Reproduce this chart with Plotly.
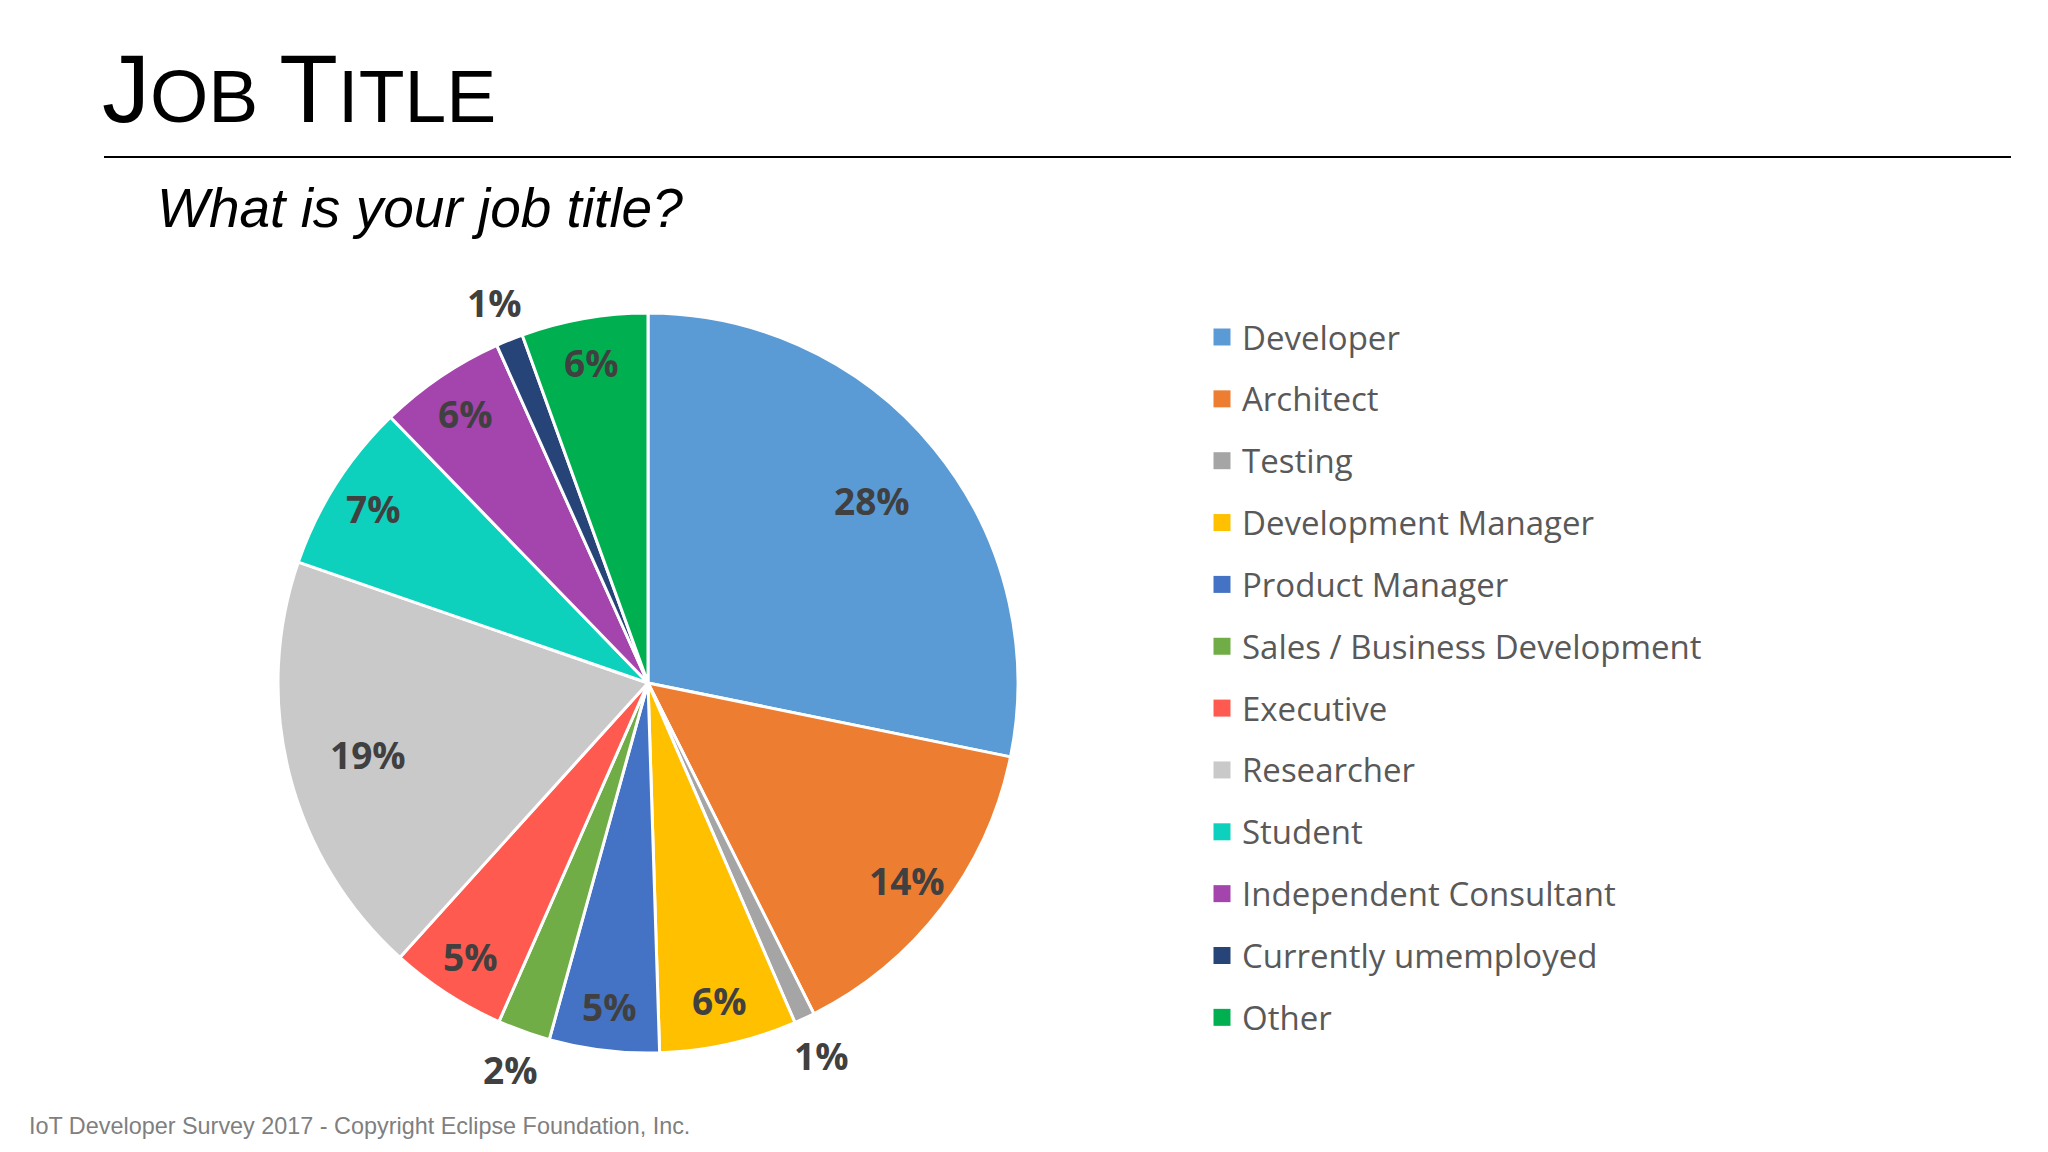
import math
import plotly.graph_objects as go

# ---- data ----
categories = ["Developer", "Architect", "Testing", "Development Manager", "Product Manager",
              "Sales / Business Development", "Executive", "Researcher", "Student",
              "Independent Consultant", "Currently umemployed", "Other"]
shares = [28.2, 14.4, 0.9, 6.0, 4.8, 2.3, 5.1, 18.6, 7.45, 5.55, 1.18, 5.52]
colors = ["#5B9BD5", "#ED7D31", "#A5A5A5", "#FFC000", "#4472C4", "#70AD47",
          "#FF5A4F", "#C9C9C9", "#0DD0BD", "#A445AD", "#264478", "#00B050"]

# page geometry (browser body has an 8px margin)
OFF = 8
W, H = 2048 - OFF, 1152 - OFF


def px(x):
    return (x - OFF) / W


def py(y):
    return 1 - (y - OFF) / H


CX, CY, R = 648, 683, 370          # pie centre / radius on the page
pie_dom_x = [px(CX - R), px(CX + R)]
pie_dom_y = [py(CY + R), py(CY - R)]

# label axis system: unit = pie radius, centred on the pie, larger than the pie
AX0, AX1, AY0, AY1 = 150, 1150, 190, 1140
ax_dom_x = [px(AX0), px(AX1)]
ax_dom_y = [py(AY1), py(AY0)]
ax_range_x = [(AX0 - CX) / R, (AX1 - CX) / R]
ax_range_y = [(CY - AY1) / R, (CY - AY0) / R]

fig = go.Figure()
fig.add_trace(go.Pie(
    labels=categories, values=shares, sort=False, direction="clockwise", rotation=0,
    marker=dict(colors=colors, line=dict(color="white", width=3)),
    textinfo="none", domain=dict(x=pie_dom_x, y=pie_dom_y),
    showlegend=False, hoverinfo="label+percent",
))

shapes = [dict(type="line", xref="paper", yref="paper", x0=px(104), x1=px(2011),
               y0=py(157), y1=py(157), line=dict(color="black", width=2))]
annotations = [
    dict(text='<span style="font-size:96px">J</span><span style="font-size:75px">OB </span>'
              '<span style="font-size:96px">T</span><span style="font-size:75px">ITLE</span>',
         x=px(100), y=py(144), xref="paper", yref="paper", xanchor="left", yanchor="bottom",
         showarrow=False, font=dict(family="Liberation Sans", size=75, color="black")),
    dict(text="<i>What is your job title?</i>", x=px(155), y=py(241), xref="paper", yref="paper",
         xanchor="left", yanchor="bottom", showarrow=False,
         font=dict(family="Liberation Sans", size=55, color="black")),
    dict(text="IoT Developer Survey 2017 - Copyright Eclipse Foundation, Inc.", x=px(27), y=py(1126),
         xref="paper", yref="paper", xanchor="left", yanchor="middle", showarrow=False,
         font=dict(family="Liberation Sans", size=23.4, color="#7F7F7F")),
]

# data labels, from the cumulative shares
total = sum(shares)
cum = 0
for s in shares:
    mid = 2 * math.pi * (cum + s / 2) / total
    cum += s
    if s < 3:
        rf = 1.11
    elif s >= 15:
        rf = 0.78
    else:
        rf = 0.88
    annotations.append(dict(
        text=f"{round(100 * s / total)}%", x=rf * math.sin(mid), y=rf * math.cos(mid),
        xref="x", yref="y", showarrow=False, xanchor="center", yanchor="middle",
        font=dict(family="Open Sans", size=37, color="#404040", weight="bold")))

# legend (manual, to match row spacing)
row0, step, sq = 337, 61.85, 17
for i, (name, c) in enumerate(zip(categories, colors)):
    yc = row0 + i * step
    shapes.append(dict(type="rect", xref="paper", yref="paper",
                       x0=px(1222 - sq / 2), x1=px(1222 + sq / 2),
                       y0=py(yc + sq / 2), y1=py(yc - sq / 2),
                       fillcolor=c, line=dict(width=0)))
    annotations.append(dict(text=name, x=px(1240), y=py(yc), xref="paper", yref="paper",
                            xanchor="left", yanchor="middle", showarrow=False,
                            font=dict(family="Open Sans", size=33, color="#595959")))

fig.update_layout(width=W, height=H, margin=dict(l=0, r=0, t=0, b=0),
                  paper_bgcolor="white", plot_bgcolor="rgba(0,0,0,0)",
                  xaxis=dict(domain=ax_dom_x, range=ax_range_x, visible=False, fixedrange=True),
                  yaxis=dict(domain=ax_dom_y, range=ax_range_y, visible=False, fixedrange=True),
                  shapes=shapes, annotations=annotations)
fig.write_html("out.html")
